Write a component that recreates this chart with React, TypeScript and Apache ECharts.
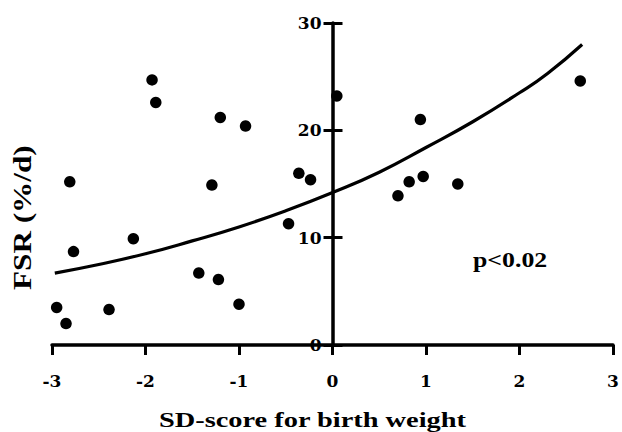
import React, { useEffect, useRef } from "react";
import * as echarts from "echarts";

const sdScores = [-1.93, -1.89, -1.2, -0.93, -2.81, -1.29, -0.36, -0.235, 0.046, 0.94, 0.97, 0.82, 0.7, 1.34, 2.65, -2.77, -2.13, -0.47, -1.43, -1.22, -1.0, -2.95, -2.85, -2.39];
const fsrValues = [24.7, 22.6, 21.2, 20.4, 15.2, 14.9, 16.0, 15.4, 23.2, 21.0, 15.7, 15.2, 13.9, 15.0, 24.6, 8.7, 9.9, 11.3, 6.7, 6.1, 3.8, 3.5, 2.0, 3.3];

const curveX = [-2.97, -2.5, -2.0, -1.5, -1.0, -0.5, 0, 0.5, 1.0, 1.5, 2.0, 2.3, 2.67];
const curveY = [6.7, 7.5, 8.5, 9.7, 11.0, 12.5, 14.2, 16.1, 18.4, 20.8, 23.5, 25.3, 28.0];

const xTicks = ["-3", "-2", "-1", "0", "1", "2", "3"];
const yTicks = ["0", "10", "20", "30"];

const xTitle = "SD-score for birth weight";
const yTitle = "FSR (%/d)";
const note = "p<0.02";

const FONT = "'Liberation Serif', 'Times New Roman', serif";
const TICK_FONT = "'DejaVu Serif', serif";

const GRID_LEFT = 52;
const GRID_RIGHT = 9;
const WIDTH = 622;

export default function App() {
  const ref = useRef<HTMLDivElement>(null);
  useEffect(() => {
    if (!ref.current) return;
    const chart = echarts.init(ref.current, undefined, { renderer: "svg" });
    const labelStyle = { color: "#000", fontFamily: TICK_FONT, fontWeight: "bold" as const, fontSize: 17 };
    // move the y axis to x = 0 (middle of the symmetric x range)
    const yOffset = -((WIDTH - GRID_LEFT - GRID_RIGHT) / 2);
    chart.setOption({
      animation: false,
      backgroundColor: "#fff",
      grid: { left: GRID_LEFT, right: GRID_RIGHT, top: 23, bottom: 87, containLabel: false },
      xAxis: {
        type: "value",
        min: -3,
        max: 3,
        interval: 1,
        axisLine: { onZero: false, lineStyle: { color: "#000", width: 3.5 } },
        axisTick: { show: true, length: 10, lineStyle: { color: "#000", width: 3 } },
        axisLabel: {
          ...labelStyle,
          margin: 27,
          formatter: (v: number) => xTicks[Math.round(v) + 3] ?? String(v),
        },
        splitLine: { show: false },
      },
      yAxis: [
        {
          type: "value",
          min: 0,
          max: 30,
          interval: 10,
          position: "left",
          offset: yOffset,
          axisLine: { onZero: false, lineStyle: { color: "#000", width: 3.5 } },
          axisTick: { show: true, length: 9, lineStyle: { color: "#000", width: 3 } },
          axisLabel: {
            ...labelStyle,
            margin: 11,
            formatter: (v: number) => yTicks[Math.round(v / 10)] ?? String(v),
          },
          splitLine: { show: false },
        },
        {
          type: "value",
          min: 0,
          max: 30,
          interval: 10,
          position: "left",
          offset: yOffset,
          axisLine: { show: false, onZero: false },
          axisTick: { show: true, inside: true, length: 10, lineStyle: { color: "#000", width: 3 } },
          axisLabel: { show: false },
          splitLine: { show: false },
        },
      ],
      series: [
        {
          type: "scatter",
          data: sdScores.map((x, i) => [x, fsrValues[i]]),
          symbol: "circle",
          symbolSize: 11.5,
          itemStyle: { color: "#000", opacity: 1 },
          z: 5,
        },
        {
          type: "line",
          data: curveX.map((x, i) => [x, curveY[i]]),
          smooth: true,
          showSymbol: false,
          lineStyle: { color: "#000", width: 3.2 },
          z: 4,
        },
      ],
      graphic: [
        {
          type: "text",
          x: 159,
          y: 419,
          scaleX: 1.29,
          style: { text: xTitle, fill: "#000", font: `bold 22px ${FONT}`, textAlign: "left", textVerticalAlign: "middle" },
        },
        {
          type: "text",
          x: 22,
          y: 290,
          rotation: Math.PI / 2,
          scaleX: 1.56,
          scaleY: 1.29,
          style: { text: yTitle, fill: "#000", font: `bold 20px ${FONT}`, textAlign: "left", textVerticalAlign: "middle" },
        },
        {
          type: "text",
          x: 473,
          y: 260,
          scaleX: 1.29,
          style: { text: note, fill: "#000", font: `bold 20px ${FONT}`, textAlign: "left", textVerticalAlign: "middle" },
        },
      ],
    });
    return () => chart.dispose();
  }, []);
  return <div ref={ref} style={{ position: "absolute", left: 0, top: 0, width: 622, height: 432 }} />;
}
